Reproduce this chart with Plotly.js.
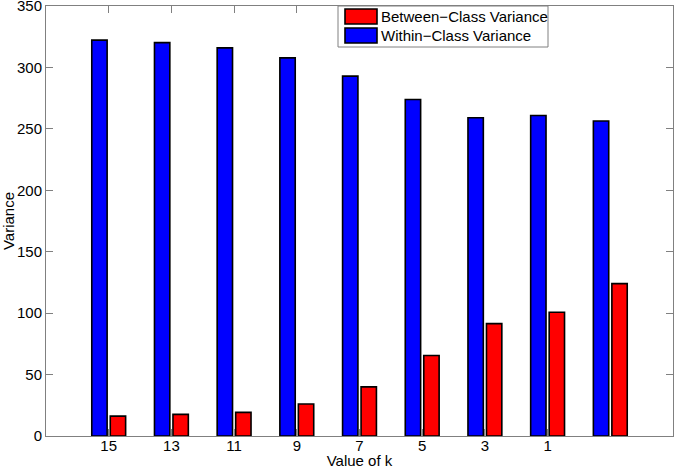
<!DOCTYPE html>
<html>
<head>
<meta charset="utf-8">
<script src="https://cdn.plot.ly/plotly-3.0.1.min.js"></script>
<style>html,body{margin:0;padding:0;background:#fff;}#chart{width:675px;height:469px;}</style>
</head>
<body>
<div id="chart"></div>
<script>
// Data
const kLabels = ['15', '13', '11', '9', '7', '5', '3', '1', ''];
const withinClass = [322.2, 320.2, 315.9, 307.8, 292.9, 273.9, 259.1, 260.9, 256.4];
const betweenClass = [16.2, 17.6, 19.2, 26.0, 40.0, 65.5, 91.5, 100.7, 124.0];
const yTicks = [0, 50, 100, 150, 200, 250, 300, 350];
const seriesNames = ['Between\u2212Class Variance', 'Within\u2212Class Variance'];
const seriesColors = ['#ff0000', '#0000ff'];

const xPos = kLabels.map((_, i) => i + 1);
const labeledPos = xPos.filter((_, i) => kLabels[i] !== '');
const labeledText = kLabels.filter(l => l !== '');

const font = {family: 'Liberation Sans, Arial, sans-serif', size: 15, color: '#000'};
const axisColor = '#808080';

// plot-area geometry in pixels (for placing the legend box in paper coords)
const W = 675, H = 469, mL = 46, mR = 2, mT = 6, mB = 33;
const pw = W - mL - mR, ph = H - mT - mB;
const px = v => (v - mL) / pw;
const py = v => (H - mB - v) / ph;

const traces = [
  {
    type: 'bar', name: seriesNames[1],
    x: xPos, y: withinClass,
    width: 0.245, offset: -0.27,
    marker: {color: seriesColors[1], line: {color: '#000', width: 1.6}}
  },
  {
    type: 'bar', name: seriesNames[0],
    x: xPos, y: betweenClass,
    width: 0.245, offset: 0.025,
    marker: {color: seriesColors[0], line: {color: '#000', width: 1.6}}
  }
];

// Legend box drawn as shapes + text annotations (MATLAB style patches)
const shapes = [
  {type: 'rect', xref: 'paper', yref: 'paper', x0: px(338), x1: px(548), y0: py(47), y1: py(mT),
   fillcolor: '#fff', line: {color: axisColor, width: 1}, layer: 'above'}
];
const annotations = [];
const rowY = [16.5, 35.5];
seriesNames.forEach((name, i) => {
  shapes.push({type: 'rect', xref: 'paper', yref: 'paper',
    x0: px(345), x1: px(377), y0: py(rowY[i] + 7.5), y1: py(rowY[i] - 7.5),
    fillcolor: seriesColors[i], line: {color: '#000', width: 1.6}, layer: 'above'});
  annotations.push({xref: 'paper', yref: 'paper', x: px(379), y: py(rowY[i]),
    xanchor: 'left', yanchor: 'middle', showarrow: false, text: name, font: font});
});

const layout = {
  width: W, height: H,
  margin: {l: mL, r: mR, t: mT, b: mB, pad: 0},
  paper_bgcolor: '#fff', plot_bgcolor: '#fff',
  font: font,
  barmode: 'group',
  showlegend: false,
  shapes: shapes,
  annotations: annotations,
  xaxis: {
    range: [0, 10], tickvals: labeledPos, ticktext: labeledText,
    ticks: 'inside', ticklen: 7, tickcolor: axisColor,
    showline: true, linecolor: axisColor, linewidth: 1, mirror: 'ticks',
    showgrid: false, zeroline: false, tickfont: font,
    ticklabelstandoff: -4,
    title: {text: 'Value of k', font: font, standoff: 5}
  },
  yaxis: {
    range: [0, 350], tickvals: yTicks,
    ticks: 'inside', ticklen: 7, tickcolor: axisColor,
    showline: true, linecolor: axisColor, linewidth: 1, mirror: 'ticks',
    showgrid: false, zeroline: false, tickfont: font,
    ticklabeloverflow: 'allow',
    title: {text: 'Variance', font: font, standoff: 2}
  }
};

Plotly.newPlot('chart', traces, layout, {displayModeBar: false, staticPlot: true});
</script>
</body>
</html>
